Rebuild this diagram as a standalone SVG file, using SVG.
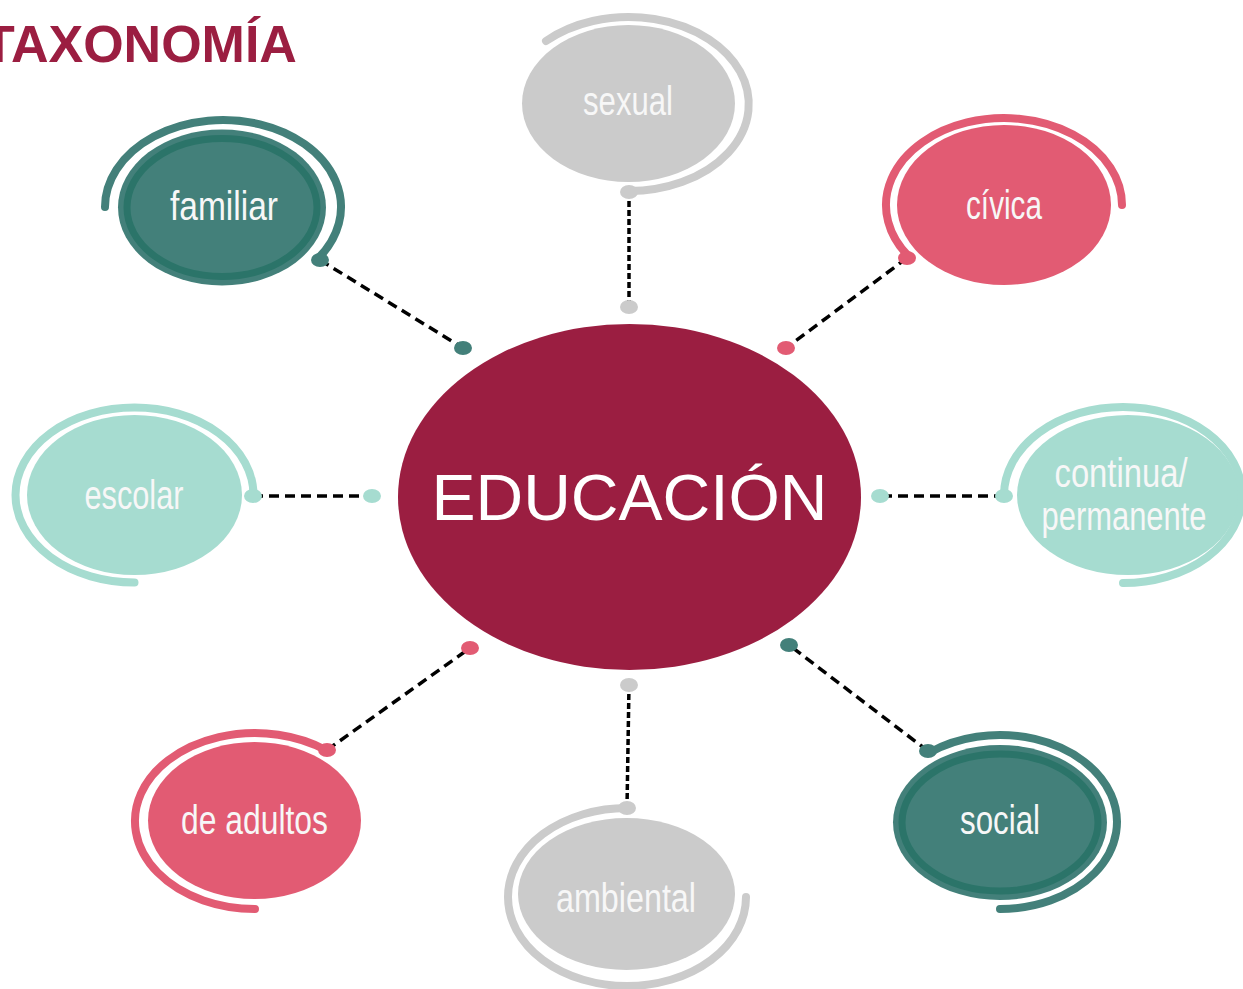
<svg xmlns="http://www.w3.org/2000/svg" width="1243" height="989" viewBox="0 0 1243 989">
<style>
.lbl{font-family:"Liberation Sans Narrow","Liberation Sans",Roboto,sans-serif;font-size:40px;fill:#F7F7F7;text-anchor:middle}
.ring{fill:none;stroke-width:8;stroke-linecap:round}
.con{stroke:#000;stroke-width:3.5;fill:none}
.d1{stroke-dasharray:10 6}
.d2{stroke-dasharray:6 3}
.teal{fill:#43807A}
.tealS{stroke:#43807A}
.gray{fill:#CBCBCB}
.grayS{stroke:#CBCBCB}
.pink{fill:#E25B73}
.pinkS{stroke:#E25B73}
.lt{fill:#A6DCD0}
.ltS{stroke:#A6DCD0}
.inner{fill:none;stroke:#2B7469;stroke-width:7}
</style>
<rect width="1243" height="989" fill="#FFFFFF"/>
<text x="-17" y="62" font-family="Liberation Sans, Arial, sans-serif" font-weight="bold" font-size="52" fill="#9B1E41">TAXONOMÍA</text>

<g id="connectors">
<line class="con d1" x1="320" y1="260" x2="463" y2="348"/>
<line class="con d2" x1="629" y1="192" x2="629" y2="307"/>
<line class="con d1" x1="907" y1="258" x2="786" y2="348"/>
<line class="con d1" x1="253" y1="496" x2="372" y2="496"/>
<line class="con d1" x1="1004" y1="496" x2="880" y2="496"/>
<line class="con d1" x1="327" y1="750" x2="470" y2="648"/>
<line class="con d2" x1="627" y1="808" x2="629" y2="685"/>
<line class="con d1" x1="928" y1="751" x2="789" y2="645"/>
</g>

<g id="center">
<ellipse cx="629.5" cy="497" rx="231.5" ry="173" fill="#9B1E41"/>
<text x="629.5" y="520" font-family="Liberation Sans, Arial, sans-serif" font-size="65" fill="#FFFFFF" text-anchor="middle" textLength="396" lengthAdjust="spacingAndGlyphs">EDUCACIÓN</text>
</g>

<g id="familiar">
<ellipse class="teal" cx="222" cy="207.5" rx="104" ry="78"/>
<ellipse class="inner" cx="222" cy="207.5" rx="95" ry="69"/>
<path class="ring tealS" d="M105,207 A118,87 0 1,1 317.9,258.7"/>
<ellipse class="teal" cx="320" cy="260" rx="9" ry="7"/>
<ellipse class="teal" cx="463" cy="348" rx="9" ry="7"/>
<text class="lbl" x="224" y="220" textLength="108" lengthAdjust="spacingAndGlyphs">familiar</text>
</g>

<g id="sexual">
<ellipse class="gray" cx="628.5" cy="103.5" rx="106.5" ry="78.5"/>
<path class="ring grayS" d="M546,41 A120,87 0 1,1 629,191"/>
<ellipse class="gray" cx="629" cy="192" rx="9" ry="7"/>
<ellipse class="gray" cx="629" cy="307" rx="9" ry="7"/>
<text class="lbl" x="628" y="115" textLength="90" lengthAdjust="spacingAndGlyphs">sexual</text>
</g>

<g id="civica">
<ellipse class="pink" cx="1004" cy="205" rx="107" ry="80"/>
<path class="ring pinkS" d="M1122,205 A118,87 0 1,0 909.1,256.8"/>
<ellipse class="pink" cx="907" cy="258" rx="9" ry="7"/>
<ellipse class="pink" cx="786" cy="348" rx="9" ry="7"/>
<text class="lbl" x="1004" y="219" textLength="76" lengthAdjust="spacingAndGlyphs">cívica</text>
</g>

<g id="escolar">
<ellipse class="lt" cx="134.5" cy="495" rx="107.5" ry="80"/>
<path class="ring ltS" d="M253.5,495 A119,87.5 0 1,0 134.5,582.5"/>
<ellipse class="lt" cx="253" cy="496" rx="9" ry="7"/>
<ellipse class="lt" cx="372" cy="496" rx="9" ry="7"/>
<text class="lbl" x="134" y="509" textLength="99" lengthAdjust="spacingAndGlyphs">escolar</text>
</g>

<g id="continua">
<ellipse class="lt" cx="1128" cy="495" rx="111" ry="80"/>
<path class="ring ltS" d="M1004,495 A119,88 0 1,1 1123,583"/>
<ellipse class="lt" cx="1004" cy="496" rx="9" ry="7"/>
<ellipse class="lt" cx="880" cy="496" rx="9" ry="7"/>
<text class="lbl" x="1121" y="487" textLength="133" lengthAdjust="spacingAndGlyphs">continua/</text>
<text class="lbl" x="1124" y="530" textLength="165" lengthAdjust="spacingAndGlyphs">permanente</text>
</g>

<g id="adultos">
<ellipse class="pink" cx="254.5" cy="820.5" rx="106.5" ry="78.5"/>
<path class="ring pinkS" d="M326.6,750.4 A120,88 0 1,0 255,909"/>
<ellipse class="pink" cx="327" cy="750" rx="9" ry="7"/>
<ellipse class="pink" cx="470" cy="648" rx="9" ry="7"/>
<text class="lbl" x="254.5" y="834" textLength="147" lengthAdjust="spacingAndGlyphs">de adultos</text>
</g>

<g id="ambiental">
<ellipse class="gray" cx="626.5" cy="894" rx="108.5" ry="76"/>
<path class="ring grayS" d="M746,897 A119,89 0 1,1 627,808"/>
<ellipse class="gray" cx="627" cy="808" rx="9" ry="7"/>
<ellipse class="gray" cx="629" cy="685" rx="9" ry="7"/>
<text class="lbl" x="626" y="912" textLength="140" lengthAdjust="spacingAndGlyphs">ambiental</text>
</g>

<g id="social">
<ellipse class="teal" cx="1000" cy="822.5" rx="107" ry="77.5"/>
<ellipse class="inner" cx="1000" cy="822.5" rx="98" ry="68.5"/>
<path class="ring tealS" d="M929.6,752.5 A117,87 0 1,1 1000,909"/>
<ellipse class="teal" cx="928" cy="751" rx="9" ry="7"/>
<ellipse class="teal" cx="789" cy="645" rx="9" ry="7"/>
<text class="lbl" x="1000" y="834" textLength="80" lengthAdjust="spacingAndGlyphs">social</text>
</g>
</svg>
